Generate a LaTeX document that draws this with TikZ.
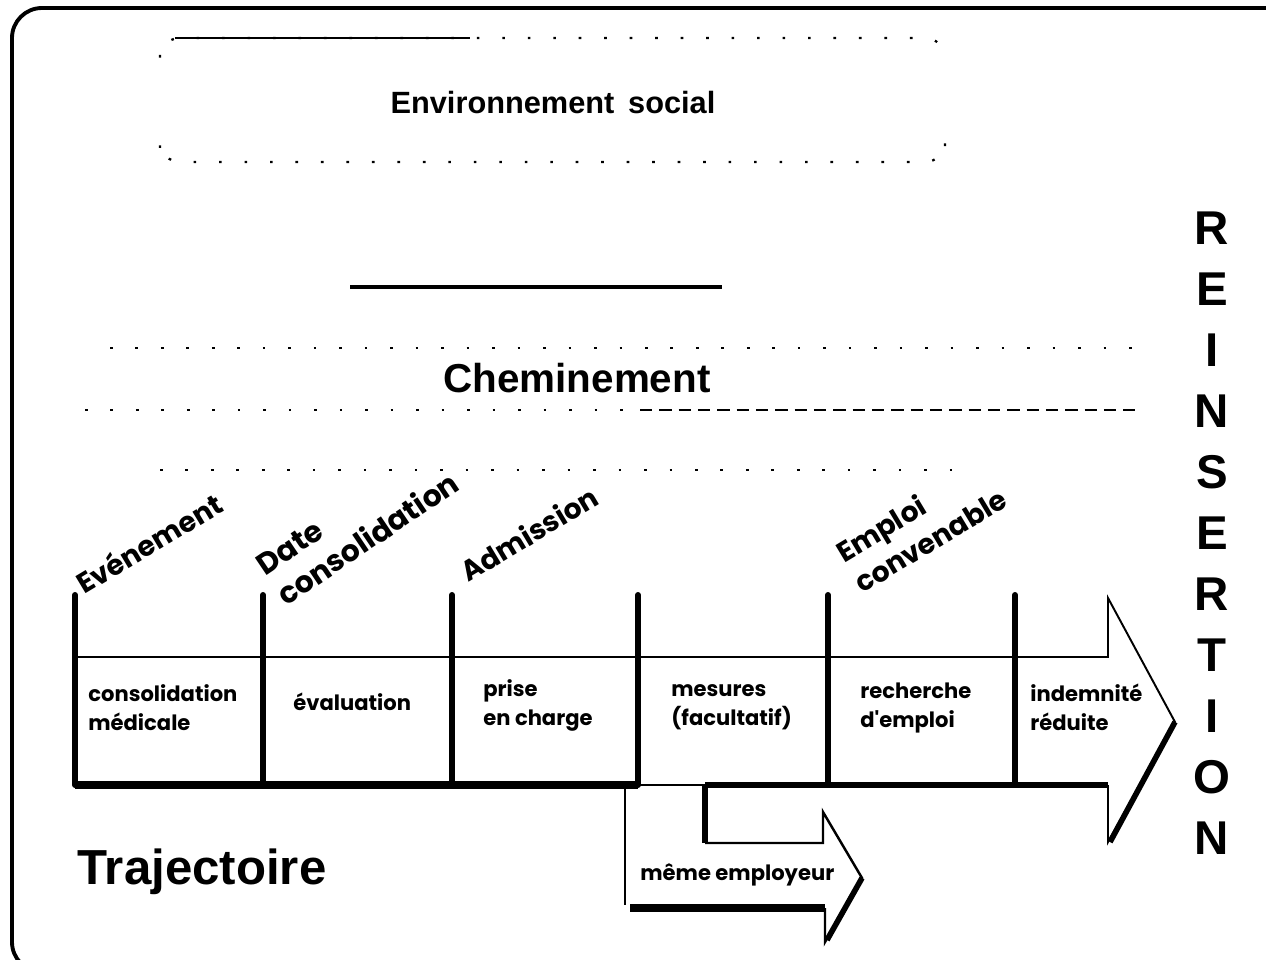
\documentclass[tikz,border=0pt]{standalone}
\usepackage{fontspec}
\setmainfont{Liberation Sans}
\newfontfamily\roundfont{Poppins}
\usetikzlibrary{positioning}

\begin{document}
\begin{tikzpicture}
    [x=0.02cm, y=-0.02cm,
     frame/.style={line width=2.2pt, rounded corners=0.6cm},
     faded/.style={line width=1.3pt, dash pattern=on 1.5pt off 13pt},
     tick/.style={line width=3.4pt, line cap=round},
     thinline/.style={line width=1.1pt},
     shadow/.style={line width=4.2pt},
     title/.style={font=\bfseries\fontsize{17.5}{20}\selectfont},
     bigtitle/.style={font=\bfseries\fontsize{23}{27}\selectfont},
     hugetitle/.style={font=\bfseries\fontsize{28}{32}\selectfont},
     letter/.style={font=\bfseries\fontsize{27}{30}\selectfont},
     cell/.style={anchor=west, align=left, inner sep=0pt,
                  font=\roundfont\bfseries\fontsize{12}{16.5}\selectfont},
     milestone/.style={anchor=south west, align=left, rotate=31, inner sep=1pt,
                  font=\roundfont\bfseries\fontsize{16}{20.5}\selectfont}]

    \useasboundingbox (0,0) rectangle (1266,959);

    % outer frame
    \draw[frame] (1280,8) -- (12,8) -- (12,972) -- (200,972);

    % social environment
    \draw[faded, rounded corners=0.4cm] (160,55) -- (160,38) -- (945,38) -- (945,55);
    \draw[faded, rounded corners=0.4cm] (160,148) -- (160,162) -- (945,162) -- (945,148);
    \draw[line width=1.6pt] (175,38) -- (470,38);
    \node[title] (env) at (553,103) {Environnement\hspace{0.45em}social};

    \draw[line width=1.8pt] (350,287) -- (722,287);

    % path
    \draw[faded] (110,348) -- (1140,348);
    \draw[faded] (85,410) -- (640,410);
    \draw[line width=1.1pt, dash pattern=on 7pt off 4pt] (640,410) -- (1140,410);
    \draw[faded] (160,470) -- (975,470);
    \node[bigtitle] (chem) at (577,378) {Cheminement};

    % main arrow
    \draw[thinline] (75,657) -- (1108,657) -- (1108,598) -- (1175,722)
        -- (1108,842) -- (1108,785);
    \draw[line width=3.2pt] (1175,722) -- (1110,842);
    \draw[shadow] (75,785) -- (638,785);
    \draw[thinline] (638,785) -- (705,785);
    \draw[line width=3pt] (705,785) -- (1108,785);
    \foreach \x in {75,263,452,638,828,1015}
        \draw[tick] (\x,595) -- (\x,785);

    % branch arrow
    \draw[thinline] (625,788) -- (625,905);
    \draw[line width=3pt] (705,785) -- (705,843);
    \draw[line width=1.4pt] (705,843) -- (823,843) -- (823,812) -- (862,878)
        -- (825,942) -- (825,908);
    \draw[line width=3.2pt] (862,878) -- (827,940);
    \draw[shadow] (630,908) -- (825,908);

    % milestones
    \node[milestone] (evt) at (84,598) {Evénement};
    \node[milestone, rotate=3, font=\roundfont\bfseries\fontsize{17}{21}\selectfont]
        (date) at (286,610) {Date\\consolidation};
    \node[milestone] (adm) at (468,586) {Admission};
    \node[milestone] (emp) at (862,597) {Emploi\\convenable};

    % phases
    \node[cell] (cons) at (88,708) {consolidation\\médicale};
    \node[cell] (eval) at (293,702) {évaluation};
    \node[cell] (prise) at (483,705) {prise\\en charge};
    \node[cell] (mes) at (671,707) {mesures\\(facultatif)};
    \node[cell] (rech) at (860,708) {recherche\\d'emploi};
    \node[cell] (ind) at (1030,707) {indemnité\\réduite};
    \node[cell] (meme) at (640,875) {même employeur};

    \node[hugetitle] (traj) at (202,872) {Trajectoire};

    \foreach \l [count=\i] in {R,E,I,N,S,E,R,T,I,O,N}
        \node[letter] (r\i) at (1212,167+61*\i) {\l};

\end{tikzpicture}
\end{document}
